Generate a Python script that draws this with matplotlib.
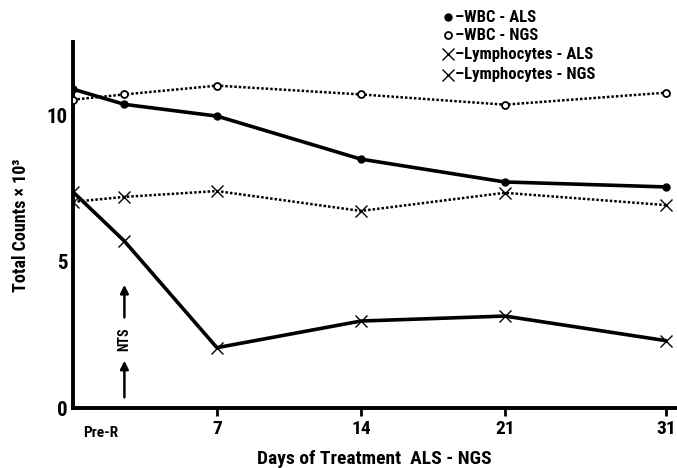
import numpy as np
import matplotlib
matplotlib.use("Agg")
import matplotlib.pyplot as plt
from matplotlib.lines import Line2D
from matplotlib import font_manager as fm

# ---------------- data ----------------
days = [0, 2.5, 7, 14, 21, 31]
tick_days = [0, 7, 14, 21, 31]
tick_labels = ["Pre-R", "7", "14", "21", "31"]

wbc_als = [10.89, 10.37, 9.97, 8.50, 7.72, 7.55]
wbc_ngs = [10.53, 10.71, 11.01, 10.71, 10.36, 10.77]
lym_als = [7.38, 5.70, 2.06, 2.97, 3.14, 2.30]
lym_ngs = [7.04, 7.21, 7.41, 6.73, 7.35, 6.93]

legend_labels = ["WBC - ALS", "WBC - NGS", "Lymphocytes - ALS", "Lymphocytes - NGS"]

# axis drawn positions of the tick days (hand-drawn, non-uniform spacing)
scale_days = [-7, 0, 7, 14, 21, 31, 41]
scale_pos = [-1, 0, 1, 2, 3, 4.12, 5.12]

def fwd(x):
    return np.interp(x, scale_days, scale_pos)

def inv(x):
    return np.interp(x, scale_pos, scale_days)

# ---------------- fonts ----------------
def wnum(w):
    if isinstance(w, (int, float)):
        return w
    return {"bold": 700, "heavy": 800, "black": 900, "semibold": 600, "demibold": 600,
            "extra bold": 800, "ultrabold": 800}.get(str(w).lower(), 400)

entries = [(f.name, str(f.stretch), wnum(f.weight)) for f in fm.fontManager.ttflist]
fam, stretch = "DejaVu Sans", "normal"
found = False
for cand in ["Liberation Sans Narrow", "Roboto Condensed", "Open Sans Condensed",
             "Noto Sans Condensed", "Arial Narrow"]:
    if any(n == cand and w >= 600 for n, s, w in entries):
        fam, found = cand, True
        break
if not found:
    for n, s, w in entries:
        if ("Condensed" in n or "Narrow" in n) and w >= 600:
            fam, found = n, True
            break
if not found:
    for n, s, w in entries:
        if "condensed" in s and w >= 600:
            fam, stretch, found = n, s, True
            break

plt.rcParams["font.family"] = [fam, "DejaVu Sans"]
plt.rcParams["font.weight"] = "bold"
plt.rcParams["font.stretch"] = stretch

fig = plt.figure(figsize=(6.77, 4.68), dpi=100)
ax = fig.add_axes([73 / 677, 60 / 468, (676 - 73) / 677, (408 - 42) / 468])
ax.set_xscale("function", functions=(fwd, inv))

solid = dict(color="black", lw=2.6, solid_capstyle="round")
dotted = dict(color="black", lw=1.8, linestyle=(0, (1, 0.8)))

ax.plot(days, wbc_als, marker="o", ms=5, mfc="black", mec="black", **solid, zorder=3)
ax.plot(days, wbc_ngs, marker="o", ms=5, mfc="white", mec="black", mew=1.3, **dotted, zorder=3)
ax.plot(days, lym_als, marker="x", ms=9, mew=1.0, **solid, zorder=3)
ax.plot(days, lym_ngs, marker="x", ms=9, mew=1.0, **dotted, zorder=3)

ax.set_xlim(inv(0), inv(4.19))
ax.set_ylim(0, 12.5)

for s in ["top", "right"]:
    ax.spines[s].set_visible(False)
for s in ["left", "bottom"]:
    ax.spines[s].set_linewidth(2.8)

ax.set_xticks(tick_days[1:])
ax.set_xticklabels(tick_labels[1:], fontsize=14, fontweight="bold")
ax.tick_params(axis="x", direction="out", length=6, width=2, pad=3)
ax.set_yticks([0, 5, 10])
ax.set_yticklabels(["0", "5", "10"], fontsize=15, fontweight="bold")
ax.tick_params(axis="y", length=0, pad=4)

ax.text(0.5, -0.6, tick_labels[0], ha="left", va="top", fontsize=11, fontweight="bold",
        transform=ax.transData)

ax.set_xlabel("Days of Treatment  ALS - NGS", fontsize=14, fontweight="bold", labelpad=8)
ax.set_ylabel("Total Counts \u00d7 10\u00b3", fontsize=13, fontweight="bold", labelpad=12)

# NTS annotation
xa = days[1]
ax.annotate("", xy=(xa, 1.71), xytext=(xa, 0.27),
            arrowprops=dict(arrowstyle="-|>", color="black", lw=1.8, mutation_scale=12))
ax.annotate("", xy=(xa, 4.3), xytext=(xa, 3.0),
            arrowprops=dict(arrowstyle="-|>", color="black", lw=1.8, mutation_scale=12))
ax.text(xa, 2.35, "NTS", rotation=90, ha="center", va="center", fontsize=10, fontweight="bold")

# legend (manual)
handles = [
    Line2D([], [], marker="o", ms=5, color="black", mfc="black", lw=0),
    Line2D([], [], marker="o", ms=5, color="black", mfc="white", mew=1.3, lw=0),
    Line2D([], [], marker="x", ms=9, color="black", mew=1.0, lw=0),
    Line2D([], [], marker="x", ms=9, color="black", mew=1.0, lw=0),
]
ys = [17, 35, 54, 75]
for h, lab, yp in zip(handles, legend_labels, ys):
    yf = 1 - yp / 468
    h.set_data([448 / 677], [yf])
    h.set_transform(fig.transFigure)
    fig.add_artist(h)
    fig.text(455 / 677, yf, "\u2013" + lab, ha="left", va="center", fontsize=12, fontweight="bold")

fig.savefig("out.png", dpi=100)
